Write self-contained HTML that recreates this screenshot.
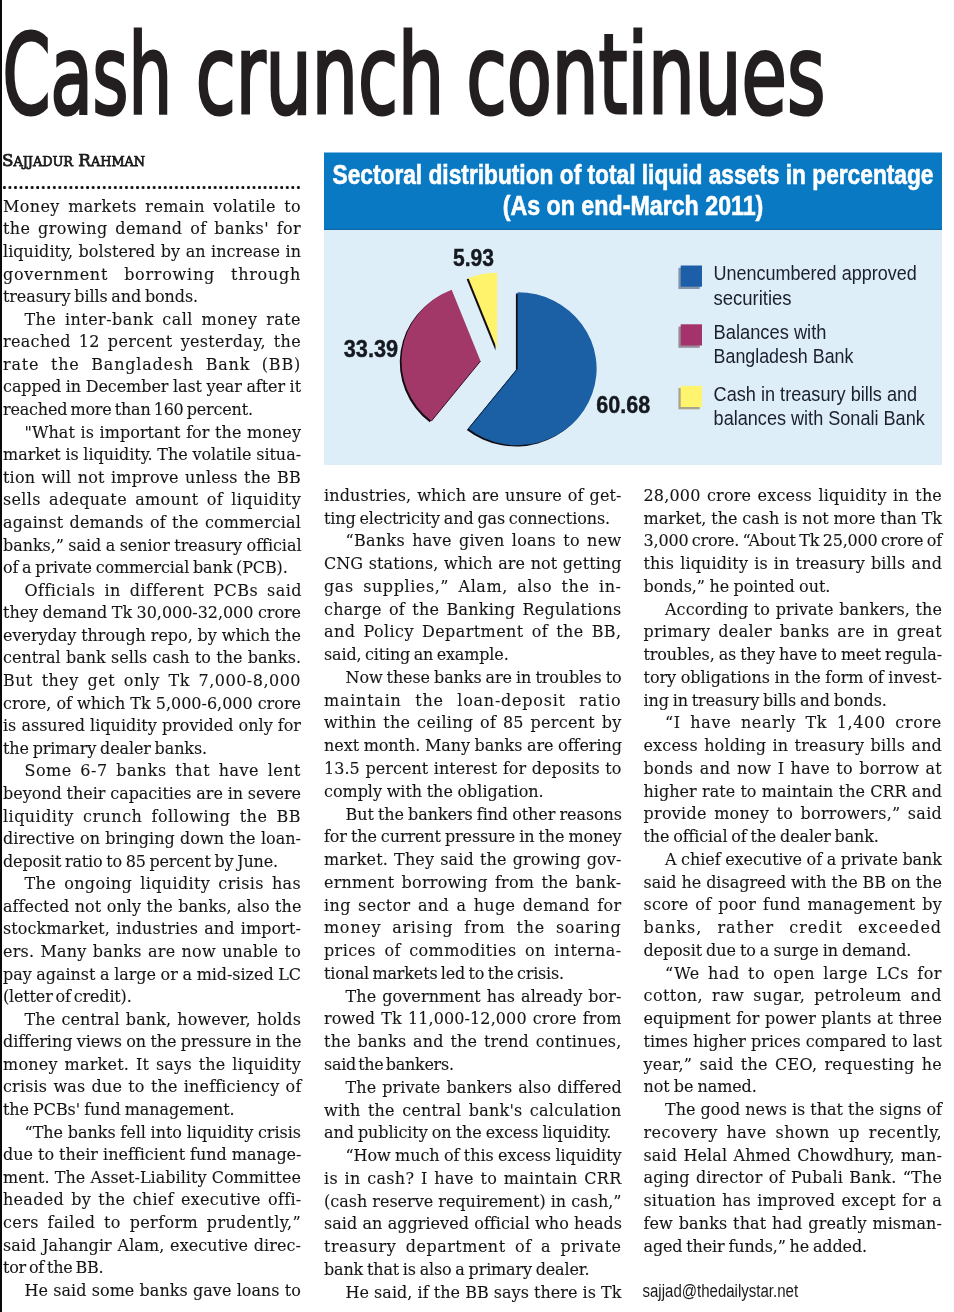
<!DOCTYPE html>
<html><head><meta charset="utf-8"><title>Cash crunch continues</title>
<style>
html,body{margin:0;padding:0;background:#fff;}
body{width:954px;height:1312px;position:relative;overflow:hidden;}
.bar{position:absolute;left:0;top:0;width:2px;height:1312px;background:#0a0a0a;}
.dots{position:absolute;left:2px;top:185px;width:299.8px;height:5.4px;background-image:radial-gradient(circle at 2.4px 2.7px,#111 0,#111 1.3px,rgba(0,0,0,0) 1.8px);background-size:5.555px 5.4px;}
.txt div{position:absolute;font-family:'DejaVu Serif','Liberation Serif',serif;font-size:16px;line-height:20px;height:20px;color:#151515;white-space:nowrap;transform:scaleY(1.04);transform-origin:0 15.54px;-webkit-text-stroke:0.1px #151515;}
svg{position:absolute;left:0;top:0;}
</style></head>
<body>
<div class="bar"></div>
<div class="dots"></div>
<svg width="954" height="1312" viewBox="0 0 954 1312">
<rect x="324" y="152.5" width="618" height="77.5" fill="#0a79c3"/>
<rect x="324" y="230" width="618" height="235" fill="#ddeef9"/>
<rect x="324" y="228.8" width="618" height="1.2" fill="#0f67a6"/>
<path d="M515.90,370.00 L515.90,293.50 A79,76.5 0 1 1 466.83,429.95 Z" fill="#140d12"/>
<path d="M478.80,362.40 L429.73,422.35 A79,76.5 0 0 1 449.97,291.17 Z" fill="#140d12"/>
<path d="M495.50,350.50 L466.67,279.27 A79,76.5 0 0 1 495.50,274.00 Z" fill="#140d12"/>
<path d="M517.60,368.70 L517.60,292.20 A79,76.5 0 1 1 468.53,428.65 Z" fill="#1b5fa4"/>
<path d="M480.50,361.10 L431.43,421.05 A79,76.5 0 0 1 451.67,289.87 Z" fill="#a13868"/>
<path d="M497.20,349.20 L468.37,277.97 A79,76.5 0 0 1 497.20,272.70 Z" fill="#fff36c"/>
<line x1="517.60" y1="368.70" x2="468.53" y2="428.65" stroke="#0c2c50" stroke-width="0.9"/>
<line x1="480.50" y1="361.10" x2="431.43" y2="421.05" stroke="#3d0f27" stroke-width="1.0"/>
<rect x="678.4000000000001" y="267.8" width="21.3" height="21.2" fill="#8396ab"/>
<rect x="680.7" y="265.5" width="21.3" height="21.2" fill="#1d5ea8"/>
<rect x="678.4000000000001" y="326.6" width="21.3" height="21.2" fill="#9a8d99"/>
<rect x="680.7" y="324.3" width="21.3" height="21.2" fill="#a3336a"/>
<rect x="678.4000000000001" y="388.1" width="21.3" height="21.2" fill="#a8a58a"/>
<rect x="680.7" y="385.8" width="21.3" height="21.2" fill="#fff46e"/>
<text x="332.5" y="183.7" textLength="601.0" lengthAdjust="spacingAndGlyphs" font-family="'Liberation Sans', Arial, sans-serif" font-size="27" font-weight="bold" fill="#ffffff" stroke="#ffffff" stroke-width="0.6">Sectoral distribution of total liquid assets in percentage</text>
<text x="502.7" y="215.4" textLength="260.63" lengthAdjust="spacingAndGlyphs" font-family="'Liberation Sans', Arial, sans-serif" font-size="27" font-weight="bold" fill="#ffffff" stroke="#ffffff" stroke-width="0.6">(As on end-March 2011)</text>
<text x="713.6" y="280.1" textLength="203.07" lengthAdjust="spacingAndGlyphs" font-family="'Liberation Sans', Arial, sans-serif" font-size="19.3" font-weight="normal" fill="#1c1f2c">Unencumbered approved</text>
<text x="713.49" y="305.3" textLength="78.14" lengthAdjust="spacingAndGlyphs" font-family="'Liberation Sans', Arial, sans-serif" font-size="19.3" font-weight="normal" fill="#1c1f2c">securities</text>
<text x="713.6" y="338.5" textLength="112.81" lengthAdjust="spacingAndGlyphs" font-family="'Liberation Sans', Arial, sans-serif" font-size="19.3" font-weight="normal" fill="#1c1f2c">Balances with</text>
<text x="713.6" y="363.1" textLength="139.79" lengthAdjust="spacingAndGlyphs" font-family="'Liberation Sans', Arial, sans-serif" font-size="19.3" font-weight="normal" fill="#1c1f2c">Bangladesh Bank</text>
<text x="713.6" y="400.7" textLength="203.62" lengthAdjust="spacingAndGlyphs" font-family="'Liberation Sans', Arial, sans-serif" font-size="19.3" font-weight="normal" fill="#1c1f2c">Cash in treasury bills and</text>
<text x="713.6" y="424.8" textLength="211.2" lengthAdjust="spacingAndGlyphs" font-family="'Liberation Sans', Arial, sans-serif" font-size="19.3" font-weight="normal" fill="#1c1f2c">balances with Sonali Bank</text>
<text x="453.0" y="266" textLength="40.98" lengthAdjust="spacingAndGlyphs" font-family="'Liberation Sans', Arial, sans-serif" font-size="23.5" font-weight="bold" fill="#15181f" stroke="#15181f" stroke-width="0.4">5.93</text>
<text x="343.78" y="357.4" textLength="54.31" lengthAdjust="spacingAndGlyphs" font-family="'Liberation Sans', Arial, sans-serif" font-size="23.5" font-weight="bold" fill="#15181f" stroke="#15181f" stroke-width="0.4">33.39</text>
<text x="596.3" y="412.5" textLength="53.87" lengthAdjust="spacingAndGlyphs" font-family="'Liberation Sans', Arial, sans-serif" font-size="23.5" font-weight="bold" fill="#15181f" stroke="#15181f" stroke-width="0.4">60.68</text>
<text x="2.43" y="113.3" textLength="169.59" lengthAdjust="spacingAndGlyphs" font-family="'DejaVu Sans', 'Liberation Sans', sans-serif" font-size="110" font-weight="normal" fill="#231f20" stroke="#231f20" stroke-width="3.2">Cash</text>
<text x="195.63" y="113.3" textLength="248.55" lengthAdjust="spacingAndGlyphs" font-family="'DejaVu Sans', 'Liberation Sans', sans-serif" font-size="110" font-weight="normal" fill="#231f20" stroke="#231f20" stroke-width="3.2">crunch</text>
<text x="466.13" y="113.3" textLength="359.26" lengthAdjust="spacingAndGlyphs" font-family="'DejaVu Sans', 'Liberation Sans', sans-serif" font-size="110" font-weight="normal" fill="#231f20" stroke="#231f20" stroke-width="3.2">continues</text>
<text x="642.47" y="1297.1" textLength="155.63" lengthAdjust="spacingAndGlyphs" font-family="'Liberation Sans', Arial, sans-serif" font-size="17.6" font-weight="normal" fill="#1a1a1a">sajjad@thedailystar.net</text>
<text x="1.9" y="165.5" textLength="143.22" lengthAdjust="spacingAndGlyphs" font-family="'DejaVu Serif', 'Liberation Serif', serif" font-size="17.2" font-weight="normal" fill="#1a1a1a" stroke="#1a1a1a" stroke-width="0.75">S<tspan font-size="13.2">AJJADUR</tspan> R<tspan font-size="13.2">AHMAN</tspan></text>
</svg>
<div class="txt">
<div class="j" style="left:3.0px;top:196.85px;width:298.0px;letter-spacing:0.373px;word-spacing:2.986px">Money markets remain volatile to</div>
<div class="j" style="left:3.0px;top:219.43px;width:298.0px;letter-spacing:0.365px;word-spacing:2.336px">the growing demand of banks&#x27; for</div>
<div class="j" style="left:3.0px;top:242.01px;width:298.0px;letter-spacing:0.042px;word-spacing:0.316px">liquidity, bolstered by an increase in</div>
<div class="j" style="left:3.0px;top:264.59px;width:298.0px;letter-spacing:0.734px;word-spacing:10.270px">government borrowing through</div>
<div class="l" style="left:3.0px;top:287.17px;width:199.0px;letter-spacing:-0.111px;word-spacing:-1.129px">treasury bills and bonds.</div>
<div class="j" style="left:24.5px;top:309.75px;width:276.5px;letter-spacing:0.435px;word-spacing:3.264px">The inter-bank call money rate</div>
<div class="j" style="left:3.0px;top:332.33px;width:298.0px;letter-spacing:0.317px;word-spacing:2.611px">reached 12 percent yesterday, the</div>
<div class="j" style="left:3.0px;top:354.91px;width:298.0px;letter-spacing:0.799px;word-spacing:5.793px">rate the Bangladesh Bank (BB)</div>
<div class="j" style="left:3.0px;top:377.49px;width:298.0px;letter-spacing:-0.066px;word-spacing:-0.498px">capped in December last year after it</div>
<div class="l" style="left:3.0px;top:400.07px;width:253.8px;letter-spacing:-0.192px;word-spacing:-1.763px">reached more than 160 percent.</div>
<div class="j" style="left:24.5px;top:422.65px;width:276.5px;letter-spacing:0.064px;word-spacing:0.412px">&quot;What is important for the money</div>
<div class="j" style="left:3.0px;top:445.23px;width:298.0px;letter-spacing:-0.037px;word-spacing:-0.364px">market is liquidity. The volatile situa-</div>
<div class="j" style="left:3.0px;top:467.81px;width:298.0px;letter-spacing:0.185px;word-spacing:1.077px">tion will not improve unless the BB</div>
<div class="j" style="left:3.0px;top:490.39px;width:298.0px;letter-spacing:0.333px;word-spacing:2.828px">sells adequate amount of liquidity</div>
<div class="j" style="left:3.0px;top:512.97px;width:298.0px;letter-spacing:0.129px;word-spacing:1.068px">against demands of the commercial</div>
<div class="j" style="left:3.0px;top:535.55px;width:298.0px;letter-spacing:-0.056px;word-spacing:-0.535px">banks,” said a senior treasury official</div>
<div class="l" style="left:3.0px;top:558.13px;width:288.6px;letter-spacing:-0.133px;word-spacing:-1.135px">of a private commercial bank (PCB).</div>
<div class="j" style="left:24.5px;top:580.71px;width:276.5px;letter-spacing:0.438px;word-spacing:3.506px">Officials in different PCBs said</div>
<div class="j" style="left:3.0px;top:603.29px;width:298.0px;letter-spacing:-0.048px;word-spacing:-0.503px">they demand Tk 30,000-32,000 crore</div>
<div class="j" style="left:3.0px;top:625.87px;width:298.0px;letter-spacing:-0.022px;word-spacing:-0.191px">everyday through repo, by which the</div>
<div class="j" style="left:3.0px;top:648.45px;width:298.0px;letter-spacing:0.024px;word-spacing:0.146px">central bank sells cash to the banks.</div>
<div class="j" style="left:3.0px;top:671.03px;width:298.0px;letter-spacing:0.488px;word-spacing:3.122px">But they get only Tk 7,000-8,000</div>
<div class="j" style="left:3.0px;top:693.61px;width:298.0px;letter-spacing:-0.007px;word-spacing:-0.062px">crore, of which Tk 5,000-6,000 crore</div>
<div class="j" style="left:3.0px;top:716.19px;width:298.0px;letter-spacing:-0.001px;word-spacing:-0.005px">is assured liquidity provided only for</div>
<div class="l" style="left:3.0px;top:738.77px;width:208.0px;letter-spacing:-0.116px;word-spacing:-1.180px">the primary dealer banks.</div>
<div class="j" style="left:24.5px;top:761.35px;width:276.5px;letter-spacing:0.512px;word-spacing:2.970px">Some 6-7 banks that have lent</div>
<div class="j" style="left:3.0px;top:783.93px;width:298.0px;letter-spacing:-0.028px;word-spacing:-0.253px">beyond their capacities are in severe</div>
<div class="j" style="left:3.0px;top:806.51px;width:298.0px;letter-spacing:0.454px;word-spacing:3.742px">liquidity crunch following the BB</div>
<div class="j" style="left:3.0px;top:829.09px;width:298.0px;letter-spacing:0.026px;word-spacing:0.184px">directive on bringing down the loan-</div>
<div class="l" style="left:3.0px;top:851.67px;width:278.9px;letter-spacing:-0.164px;word-spacing:-1.204px">deposit ratio to 85 percent by June.</div>
<div class="j" style="left:24.5px;top:874.25px;width:276.5px;letter-spacing:0.347px;word-spacing:2.773px">The ongoing liquidity crisis has</div>
<div class="j" style="left:3.0px;top:896.83px;width:298.0px;letter-spacing:0.048px;word-spacing:0.297px">affected not only the banks, also the</div>
<div class="j" style="left:3.0px;top:919.41px;width:298.0px;letter-spacing:0.085px;word-spacing:0.997px">stockmarket, industries and import-</div>
<div class="j" style="left:3.0px;top:941.99px;width:298.0px;letter-spacing:0.189px;word-spacing:1.040px">ers. Many banks are now unable to</div>
<div class="j" style="left:3.0px;top:964.57px;width:298.0px;letter-spacing:-0.054px;word-spacing:-0.350px">pay against a large or a mid-sized LC</div>
<div class="l" style="left:3.0px;top:987.15px;width:132.6px;letter-spacing:-0.169px;word-spacing:-1.962px">(letter of credit).</div>
<div class="j" style="left:24.5px;top:1009.73px;width:276.5px;letter-spacing:0.114px;word-spacing:0.910px">The central bank, however, holds</div>
<div class="j" style="left:3.0px;top:1032.31px;width:298.0px;letter-spacing:-0.077px;word-spacing:-0.599px">differing views on the pressure in the</div>
<div class="j" style="left:3.0px;top:1054.89px;width:298.0px;letter-spacing:0.218px;word-spacing:1.523px">money market. It says the liquidity</div>
<div class="j" style="left:3.0px;top:1077.47px;width:298.0px;letter-spacing:0.158px;word-spacing:0.975px">crisis was due to the inefficiency of</div>
<div class="l" style="left:3.0px;top:1100.05px;width:235.6px;letter-spacing:-0.082px;word-spacing:-0.870px">the PCBs&#x27; fund management.</div>
<div class="j" style="left:24.5px;top:1122.63px;width:276.5px;letter-spacing:-0.032px;word-spacing:-0.292px">“The banks fell into liquidity crisis</div>
<div class="j" style="left:3.0px;top:1145.21px;width:298.0px;letter-spacing:-0.007px;word-spacing:-0.064px">due to their inefficient fund manage-</div>
<div class="j" style="left:3.0px;top:1167.79px;width:298.0px;letter-spacing:0.015px;word-spacing:0.180px">ment. The Asset-Liability Committee</div>
<div class="j" style="left:3.0px;top:1190.37px;width:298.0px;letter-spacing:0.275px;word-spacing:1.923px">headed by the chief executive offi-</div>
<div class="j" style="left:3.0px;top:1212.95px;width:298.0px;letter-spacing:0.386px;word-spacing:3.277px">cers failed to perform prudently,”</div>
<div class="j" style="left:3.0px;top:1235.53px;width:298.0px;letter-spacing:0.067px;word-spacing:0.605px">said Jahangir Alam, executive direc-</div>
<div class="l" style="left:3.0px;top:1258.11px;width:104.3px;letter-spacing:-0.290px;word-spacing:-1.655px">tor of the BB.</div>
<div class="j" style="left:24.5px;top:1280.69px;width:276.5px;letter-spacing:0.028px;word-spacing:0.151px">He said some banks gave loans to</div>
<div class="j" style="left:324.0px;top:485.75px;width:297.5px;letter-spacing:0.105px;word-spacing:0.755px">industries, which are unsure of get-</div>
<div class="l" style="left:324.0px;top:508.52px;width:290.0px;letter-spacing:-0.106px;word-spacing:-1.195px">ting electricity and gas connections.</div>
<div class="j" style="left:345.5px;top:531.29px;width:276.0px;letter-spacing:0.300px;word-spacing:1.802px">“Banks have given loans to new</div>
<div class="j" style="left:324.0px;top:554.06px;width:297.5px;letter-spacing:0.063px;word-spacing:0.444px">CNG stations, which are not getting</div>
<div class="j" style="left:324.0px;top:576.83px;width:297.5px;letter-spacing:0.574px;word-spacing:3.789px">gas supplies,” Alam, also the in-</div>
<div class="j" style="left:324.0px;top:599.60px;width:297.5px;letter-spacing:0.240px;word-spacing:1.982px">charge of the Banking Regulations</div>
<div class="j" style="left:324.0px;top:622.37px;width:297.5px;letter-spacing:0.408px;word-spacing:2.611px">and Policy Department of the BB,</div>
<div class="l" style="left:324.0px;top:645.14px;width:188.6px;letter-spacing:-0.150px;word-spacing:-1.466px">said, citing an example.</div>
<div class="j" style="left:345.5px;top:667.91px;width:276.0px;letter-spacing:-0.118px;word-spacing:-0.818px">Now these banks are in troubles to</div>
<div class="j" style="left:324.0px;top:690.68px;width:297.5px;letter-spacing:0.755px;word-spacing:7.799px">maintain the loan-deposit ratio</div>
<div class="j" style="left:324.0px;top:713.45px;width:297.5px;letter-spacing:0.254px;word-spacing:1.480px">within the ceiling of 85 percent by</div>
<div class="j" style="left:324.0px;top:736.22px;width:297.5px;letter-spacing:-0.049px;word-spacing:-0.416px">next month. Many banks are offering</div>
<div class="j" style="left:324.0px;top:758.99px;width:297.5px;letter-spacing:0.054px;word-spacing:0.402px">13.5 percent interest for deposits to</div>
<div class="l" style="left:324.0px;top:781.76px;width:223.6px;letter-spacing:-0.034px;word-spacing:-0.374px">comply with the obligation.</div>
<div class="j" style="left:345.5px;top:804.53px;width:276.0px;letter-spacing:-0.092px;word-spacing:-0.765px">But the bankers find other reasons</div>
<div class="j" style="left:324.0px;top:827.30px;width:297.5px;letter-spacing:-0.117px;word-spacing:-0.884px">for the current pressure in the money</div>
<div class="j" style="left:324.0px;top:850.07px;width:297.5px;letter-spacing:0.133px;word-spacing:0.903px">market. They said the growing gov-</div>
<div class="j" style="left:324.0px;top:872.84px;width:297.5px;letter-spacing:0.230px;word-spacing:1.838px">ernment borrowing from the bank-</div>
<div class="j" style="left:324.0px;top:895.61px;width:297.5px;letter-spacing:0.357px;word-spacing:1.904px">ing sector and a huge demand for</div>
<div class="j" style="left:324.0px;top:918.38px;width:297.5px;letter-spacing:0.701px;word-spacing:5.260px">money arising from the soaring</div>
<div class="j" style="left:324.0px;top:941.15px;width:297.5px;letter-spacing:0.373px;word-spacing:3.080px">prices of commodities on interna-</div>
<div class="l" style="left:324.0px;top:963.92px;width:244.0px;letter-spacing:-0.180px;word-spacing:-1.451px">tional markets led to the crisis.</div>
<div class="j" style="left:345.5px;top:986.69px;width:276.0px;letter-spacing:0.096px;word-spacing:0.740px">The government has already bor-</div>
<div class="j" style="left:324.0px;top:1009.46px;width:297.5px;letter-spacing:0.106px;word-spacing:0.873px">rowed Tk 11,000-12,000 crore from</div>
<div class="j" style="left:324.0px;top:1032.23px;width:297.5px;letter-spacing:0.201px;word-spacing:1.367px">the banks and the trend continues,</div>
<div class="l" style="left:324.0px;top:1055.00px;width:133.7px;letter-spacing:-0.282px;word-spacing:-2.600px">said the bankers.</div>
<div class="j" style="left:345.5px;top:1077.77px;width:276.0px;letter-spacing:0.099px;word-spacing:0.820px">The private bankers also differed</div>
<div class="j" style="left:324.0px;top:1100.54px;width:297.5px;letter-spacing:0.236px;word-spacing:2.064px">with the central bank&#x27;s calculation</div>
<div class="l" style="left:324.0px;top:1123.31px;width:291.3px;letter-spacing:-0.094px;word-spacing:-0.876px">and publicity on the excess liquidity.</div>
<div class="j" style="left:345.5px;top:1146.08px;width:276.0px;letter-spacing:-0.071px;word-spacing:-0.586px">“How much of this excess liquidity</div>
<div class="j" style="left:324.0px;top:1168.85px;width:297.5px;letter-spacing:0.279px;word-spacing:1.354px">is in cash? I have to maintain CRR</div>
<div class="j" style="left:324.0px;top:1191.62px;width:297.5px;letter-spacing:-0.004px;word-spacing:-0.039px">(cash reserve requirement) in cash,”</div>
<div class="j" style="left:324.0px;top:1214.39px;width:297.5px;letter-spacing:0.026px;word-spacing:0.186px">said an aggrieved official who heads</div>
<div class="j" style="left:324.0px;top:1237.16px;width:297.5px;letter-spacing:0.490px;word-spacing:3.918px">treasury department of a private</div>
<div class="l" style="left:324.0px;top:1259.93px;width:269.4px;letter-spacing:-0.157px;word-spacing:-1.118px">bank that is also a primary dealer.</div>
<div class="j" style="left:345.5px;top:1282.70px;width:276.0px;letter-spacing:0.013px;word-spacing:0.058px">He said, if the BB says there is Tk</div>
<div class="j" style="left:643.5px;top:485.75px;width:298.5px;letter-spacing:0.167px;word-spacing:1.203px">28,000 crore excess liquidity in the</div>
<div class="j" style="left:643.5px;top:508.50px;width:298.5px;letter-spacing:-0.024px;word-spacing:-0.151px">market, the cash is not more than Tk</div>
<div class="j" style="left:643.5px;top:531.25px;width:298.5px;letter-spacing:-0.187px;word-spacing:-1.449px">3,000 crore. “About Tk 25,000 crore of</div>
<div class="j" style="left:643.5px;top:554.00px;width:298.5px;letter-spacing:0.132px;word-spacing:0.855px">this liquidity is in treasury bills and</div>
<div class="l" style="left:643.5px;top:576.75px;width:190.8px;letter-spacing:-0.059px;word-spacing:-0.555px">bonds,” he pointed out.</div>
<div class="j" style="left:665.0px;top:599.50px;width:277.0px;letter-spacing:0.061px;word-spacing:0.506px">According to private bankers, the</div>
<div class="j" style="left:643.5px;top:622.25px;width:298.5px;letter-spacing:0.360px;word-spacing:2.378px">primary dealer banks are in great</div>
<div class="j" style="left:643.5px;top:645.00px;width:298.5px;letter-spacing:-0.116px;word-spacing:-0.901px">troubles, as they have to meet regula-</div>
<div class="j" style="left:643.5px;top:667.75px;width:298.5px;letter-spacing:-0.045px;word-spacing:-0.357px">tory obligations in the form of invest-</div>
<div class="l" style="left:643.5px;top:690.50px;width:247.2px;letter-spacing:-0.130px;word-spacing:-1.014px">ing in treasury bills and bonds.</div>
<div class="j" style="left:665.0px;top:713.25px;width:277.0px;letter-spacing:0.656px;word-spacing:3.806px">“I have nearly Tk 1,400 crore</div>
<div class="j" style="left:643.5px;top:736.00px;width:298.5px;letter-spacing:0.155px;word-spacing:1.116px">excess holding in treasury bills and</div>
<div class="j" style="left:643.5px;top:758.75px;width:298.5px;letter-spacing:0.232px;word-spacing:1.096px">bonds and now I have to borrow at</div>
<div class="j" style="left:643.5px;top:781.50px;width:298.5px;letter-spacing:0.023px;word-spacing:0.133px">higher rate to maintain the CRR and</div>
<div class="j" style="left:643.5px;top:804.25px;width:298.5px;letter-spacing:0.256px;word-spacing:2.109px">provide money to borrowers,” said</div>
<div class="l" style="left:643.5px;top:827.00px;width:238.8px;letter-spacing:-0.138px;word-spacing:-1.077px">the official of the dealer bank.</div>
<div class="j" style="left:665.0px;top:849.75px;width:277.0px;letter-spacing:-0.058px;word-spacing:-0.411px">A chief executive of a private bank</div>
<div class="j" style="left:643.5px;top:872.50px;width:298.5px;letter-spacing:-0.020px;word-spacing:-0.124px">said he disagreed with the BB on the</div>
<div class="j" style="left:643.5px;top:895.25px;width:298.5px;letter-spacing:0.230px;word-spacing:1.473px">score of poor fund management by</div>
<div class="j" style="left:643.5px;top:918.00px;width:298.5px;letter-spacing:0.947px;word-spacing:9.151px">banks, rather credit exceeded</div>
<div class="l" style="left:643.5px;top:940.75px;width:271.8px;letter-spacing:-0.123px;word-spacing:-0.828px">deposit due to a surge in demand.</div>
<div class="j" style="left:665.0px;top:963.50px;width:277.0px;letter-spacing:0.537px;word-spacing:2.596px">“We had to open large LCs for</div>
<div class="j" style="left:643.5px;top:986.25px;width:298.5px;letter-spacing:0.437px;word-spacing:3.494px">cotton, raw sugar, petroleum and</div>
<div class="j" style="left:643.5px;top:1009.00px;width:298.5px;letter-spacing:0.047px;word-spacing:0.330px">equipment for power plants at three</div>
<div class="j" style="left:643.5px;top:1031.75px;width:298.5px;letter-spacing:-0.004px;word-spacing:-0.036px">times higher prices compared to last</div>
<div class="j" style="left:643.5px;top:1054.50px;width:298.5px;letter-spacing:0.267px;word-spacing:1.816px">year,” said the CEO, requesting he</div>
<div class="l" style="left:643.5px;top:1077.25px;width:117.2px;letter-spacing:-0.099px;word-spacing:-0.787px">not be named.</div>
<div class="j" style="left:665.0px;top:1100.00px;width:277.0px;letter-spacing:-0.005px;word-spacing:-0.028px">The good news is that the signs of</div>
<div class="j" style="left:643.5px;top:1122.75px;width:298.5px;letter-spacing:0.419px;word-spacing:3.350px">recovery have shown up recently,</div>
<div class="j" style="left:643.5px;top:1145.50px;width:298.5px;letter-spacing:0.130px;word-spacing:1.039px">said Helal Ahmed Chowdhury, man-</div>
<div class="j" style="left:643.5px;top:1168.25px;width:298.5px;letter-spacing:0.155px;word-spacing:1.083px">aging director of Pubali Bank. “The</div>
<div class="j" style="left:643.5px;top:1191.00px;width:298.5px;letter-spacing:0.158px;word-spacing:1.103px">situation has improved except for a</div>
<div class="j" style="left:643.5px;top:1213.75px;width:298.5px;letter-spacing:0.100px;word-spacing:0.680px">few banks that had greatly misman-</div>
<div class="l" style="left:643.5px;top:1236.50px;width:227.5px;letter-spacing:-0.131px;word-spacing:-1.121px">aged their funds,” he added.</div>
</div>
</body></html>
